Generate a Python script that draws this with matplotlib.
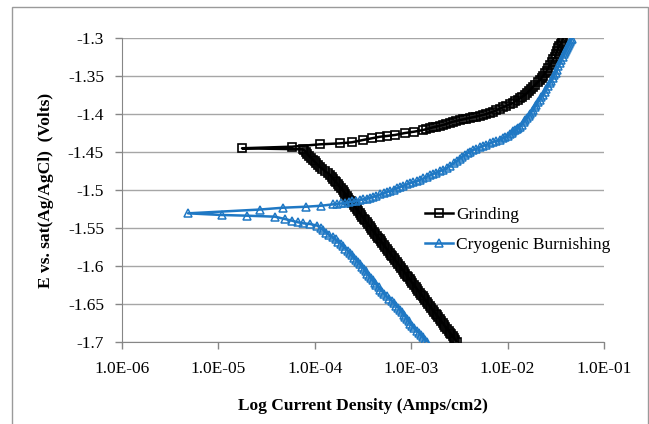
import matplotlib
matplotlib.use("Agg")
import matplotlib.pyplot as plt
from matplotlib.patches import Rectangle
import numpy as np

# Grinding scan: E in volts, current as log10 of A/cm2
grind_E = [-1.7000, -1.6975, -1.6950, -1.6925, -1.6900, -1.6875, -1.6850, -1.6825, -1.6800, -1.6775,
           -1.6750, -1.6725, -1.6700, -1.6675, -1.6650, -1.6625, -1.6600, -1.6575, -1.6550, -1.6525,
           -1.6500, -1.6475, -1.6450, -1.6425, -1.6400, -1.6375, -1.6350, -1.6325, -1.6300, -1.6275,
           -1.6250, -1.6225, -1.6200, -1.6175, -1.6150, -1.6125, -1.6100, -1.6075, -1.6050, -1.6025,
           -1.6000, -1.5975, -1.5950, -1.5925, -1.5900, -1.5875, -1.5850, -1.5825, -1.5800, -1.5775,
           -1.5750, -1.5725, -1.5700, -1.5675, -1.5650, -1.5625, -1.5600, -1.5575, -1.5550, -1.5525,
           -1.5500, -1.5475, -1.5450, -1.5425, -1.5400, -1.5375, -1.5350, -1.5325, -1.5300, -1.5275,
           -1.5250, -1.5225, -1.5200, -1.5175, -1.5150, -1.5125, -1.5100, -1.5075, -1.5050, -1.5025,
           -1.5000, -1.4975, -1.4950, -1.4925, -1.4900, -1.4875, -1.4850, -1.4825, -1.4800, -1.4775,
           -1.4750, -1.4725, -1.4700, -1.4675, -1.4650, -1.4625, -1.4600, -1.4575, -1.4550, -1.4525,
           -1.4500, -1.4480, -1.4465, -1.4451,
           -1.4430, -1.4399, -1.4386, -1.4372, -1.4342, -1.4320, -1.4299, -1.4289, -1.4276, -1.4250,
           -1.4233, -1.4211, -1.4200, -1.4188, -1.4175, -1.4165, -1.4155, -1.4145, -1.4130, -1.4115,
           -1.4101, -1.4091, -1.4080, -1.4070, -1.4061, -1.4052, -1.4043, -1.4033, -1.4023, -1.4013,
           -1.4000, -1.3985, -1.3970, -1.3951, -1.3931, -1.3912, -1.3892, -1.3872, -1.3851, -1.3832,
           -1.3813, -1.3794, -1.3772, -1.3750, -1.3728, -1.3699, -1.3670, -1.3641, -1.3612, -1.3582,
           -1.3553, -1.3524, -1.3494, -1.3465, -1.3428, -1.3392, -1.3355, -1.3319, -1.3282, -1.3246,
           -1.3209, -1.3173, -1.3136, -1.3107, -1.3078, -1.3049, -1.3004]
grind_logi = [-2.525, -2.541, -2.554, -2.570, -2.584, -2.600, -2.613, -2.629, -2.645, -2.658,
              -2.674, -2.690, -2.703, -2.719, -2.734, -2.747, -2.763, -2.779, -2.792, -2.808,
              -2.823, -2.836, -2.853, -2.867, -2.881, -2.897, -2.912, -2.926, -2.943, -2.955,
              -2.970, -2.987, -3.001, -3.016, -3.032, -3.045, -3.060, -3.076, -3.090, -3.106,
              -3.121, -3.134, -3.149, -3.166, -3.180, -3.194, -3.210, -3.223, -3.238, -3.254,
              -3.269, -3.284, -3.300, -3.312, -3.327, -3.344, -3.358, -3.372, -3.389, -3.402,
              -3.418, -3.432, -3.446, -3.463, -3.478, -3.491, -3.507, -3.522, -3.536, -3.552,
              -3.567, -3.580, -3.596, -3.611, -3.625, -3.641, -3.656, -3.669, -3.684, -3.698,
              -3.712, -3.729, -3.745, -3.762, -3.778, -3.794, -3.810, -3.826, -3.842, -3.868,
              -3.895, -3.921, -3.946, -3.966, -3.985, -4.003, -4.020, -4.041, -4.060, -4.076,
              -4.090, -4.108, -4.125, -4.755,
              -4.236, -3.946, -3.739, -3.614, -3.500, -3.407, -3.324, -3.251, -3.168, -3.064,
              -2.971, -2.878, -2.843, -2.808, -2.774, -2.740, -2.705, -2.670, -2.635, -2.600,
              -2.566, -2.532, -2.497, -2.463, -2.428, -2.394, -2.359, -2.324, -2.290, -2.255,
              -2.220, -2.186, -2.151, -2.117, -2.082, -2.048, -2.013, -1.979, -1.944, -1.920,
              -1.895, -1.871, -1.847, -1.823, -1.799, -1.778, -1.757, -1.736, -1.712, -1.688,
              -1.664, -1.647, -1.629, -1.612, -1.595, -1.577, -1.560, -1.543, -1.525, -1.508,
              -1.497, -1.487, -1.477, -1.463, -1.450, -1.436, -1.425]

# Cryogenic Burnishing scan
cryo_E = [-1.700, -1.697, -1.694, -1.691, -1.688, -1.685, -1.682, -1.679, -1.676, -1.673,
          -1.670, -1.667, -1.664, -1.661, -1.658, -1.655, -1.652, -1.649, -1.646, -1.643,
          -1.640, -1.637, -1.634, -1.631, -1.628, -1.625, -1.622, -1.619, -1.616, -1.613,
          -1.610, -1.607, -1.604, -1.601, -1.598, -1.595, -1.592, -1.589, -1.586, -1.583,
          -1.580, -1.577, -1.574, -1.571, -1.568, -1.565, -1.562, -1.559, -1.556, -1.553,
          -1.550, -1.547, -1.5447, -1.5438, -1.5425, -1.5404, -1.5382, -1.5351, -1.5338, -1.5329,
          -1.5307,
          -1.5257, -1.5233, -1.5220, -1.5207, -1.5188, -1.5183, -1.5177, -1.5171, -1.5161, -1.5151,
          -1.5142, -1.5132, -1.5122, -1.5112, -1.5102, -1.5092, -1.5076, -1.5059, -1.5043, -1.5026,
          -1.5010, -1.4994, -1.4977, -1.4961, -1.4943, -1.4926, -1.4908, -1.4895, -1.4881, -1.4868,
          -1.4848, -1.4828, -1.4809, -1.4789, -1.4770, -1.4750, -1.4731, -1.4711, -1.4680, -1.4649,
          -1.4618, -1.4592, -1.4565, -1.4539, -1.4517, -1.4496, -1.4474, -1.4456, -1.4439, -1.4421,
          -1.4403, -1.4386, -1.4368, -1.4353, -1.4337, -1.4322, -1.4302, -1.4283, -1.4263, -1.4246,
          -1.4228, -1.4211, -1.4196, -1.4182, -1.4167, -1.4139, -1.4110, -1.4082, -1.4053, -1.4027,
          -1.4000, -1.3974, -1.3947, -1.3912, -1.3877, -1.3842, -1.3811, -1.3781, -1.3750, -1.3711,
          -1.3671, -1.3632, -1.3597, -1.3561, -1.3526, -1.3491, -1.3456, -1.3421, -1.3375, -1.3329,
          -1.3290, -1.3250, -1.3211, -1.3185, -1.3158, -1.3132, -1.3106, -1.3079, -1.3053, -1.3030,
          -1.3007]
cryo_logi = [-2.836, -2.857, -2.878, -2.898, -2.920, -2.943, -2.967, -2.990, -3.008, -3.024,
             -3.043, -3.061, -3.079, -3.097, -3.115, -3.134, -3.155, -3.176, -3.200, -3.226,
             -3.256, -3.277, -3.298, -3.319, -3.339, -3.360, -3.380, -3.401, -3.420, -3.439,
             -3.457, -3.474, -3.492, -3.510, -3.528, -3.550, -3.572, -3.596, -3.618, -3.638,
             -3.658, -3.682, -3.705, -3.730, -3.760, -3.785, -3.811, -3.850, -3.880, -3.910,
             -3.940, -3.972, -4.050, -4.122, -4.174, -4.236, -4.309, -4.413, -4.703, -4.963,
             -5.315,
             -4.568, -4.330, -4.091, -3.936, -3.811, -3.770, -3.728, -3.687, -3.648, -3.609,
             -3.570, -3.531, -3.497, -3.463, -3.430, -3.396, -3.360, -3.323, -3.287, -3.251,
             -3.217, -3.183, -3.150, -3.116, -3.081, -3.047, -3.012, -2.978, -2.943, -2.909,
             -2.875, -2.841, -2.808, -2.774, -2.738, -2.701, -2.665, -2.629, -2.594, -2.560,
             -2.525, -2.497, -2.470, -2.442, -2.414, -2.387, -2.359, -2.324, -2.290, -2.255,
             -2.220, -2.186, -2.151, -2.117, -2.082, -2.048, -2.024, -1.999, -1.975, -1.958,
             -1.940, -1.923, -1.906, -1.888, -1.871, -1.853, -1.835, -1.817, -1.799, -1.783,
             -1.768, -1.752, -1.736, -1.719, -1.702, -1.685, -1.668, -1.650, -1.633, -1.616,
             -1.598, -1.581, -1.564, -1.546, -1.529, -1.515, -1.502, -1.488, -1.472, -1.456,
             -1.442, -1.429, -1.415, -1.405, -1.394, -1.384, -1.374, -1.363, -1.353, -1.342,
             -1.332]

x_ticks = [1e-6, 1e-5, 1e-4, 1e-3, 1e-2, 1e-1]
x_ticklabels = ["1.0E-06", "1.0E-05", "1.0E-04", "1.0E-03", "1.0E-02", "1.0E-01"]
y_ticks = [-1.7, -1.65, -1.6, -1.55, -1.5, -1.45, -1.4, -1.35, -1.3]
y_ticklabels = ["-1.7", "-1.65", "-1.6", "-1.55", "-1.5", "-1.45", "-1.4", "-1.35", "-1.3"]

plt.rcParams['font.family'] = ['Liberation Serif', 'DejaVu Serif']
plt.rcParams['font.size'] = 12.5

blue = '#1f78c4'
grid_c = '#a6a6a6'

fig = plt.figure(figsize=(6.49, 4.24), dpi=100)
ax = fig.add_axes([122/649, 1-342/424, 482/649, 304/424])

ax.plot(10**np.array(grind_logi), grind_E, color='black', lw=1.8, marker='s', ms=5.8,
        mfc='none', mec='black', mew=1.2, label='Grinding', zorder=3)
ax.plot(10**np.array(cryo_logi), cryo_E, color=blue, lw=1.8, marker='^', ms=5.8,
        mfc='none', mec=blue, mew=1.1, label='Cryogenic Burnishing', zorder=3)

ax.set_xscale('log')
ax.set_xlim(1e-6, 1e-1)
ax.set_ylim(-1.7, -1.3)
ax.set_xticks(x_ticks)
ax.set_xticklabels(x_ticklabels)
ax.minorticks_off()
ax.set_yticks(y_ticks)
ax.set_yticklabels(y_ticklabels)
ax.tick_params(axis='x', length=5, width=1, color='#868686', pad=9)
ax.tick_params(axis='y', length=5, width=1, color='#868686', pad=8)
ax.yaxis.grid(True, color=grid_c, lw=1)
ax.set_axisbelow(True)
for s in ['top', 'right']:
    ax.spines[s].set_visible(False)
for s in ['left', 'bottom']:
    ax.spines[s].set_color('#868686')

ax.set_xlabel('Log Current Density (Amps/cm2)', fontweight='bold')
ax.xaxis.set_label_coords(0.5, -0.185)
ax.set_ylabel('E vs. sat(Ag/AgCl)  (Volts)', fontweight='bold')
ax.yaxis.set_label_coords(-0.142, 0.5)

ax.legend(loc='upper left', bbox_to_anchor=(425/649, 1-206.5/424), bbox_transform=fig.transFigure,
          frameon=False, borderpad=0, borderaxespad=0, handlelength=1.6, handletextpad=0.2,
          labelspacing=0.8)

fig.patches.append(Rectangle((12/649, -0.1), 636/649, 1.1-7/424, transform=fig.transFigure,
                             fill=False, ec='#9a9a9a', lw=1))

fig.savefig('out.png', dpi=100)
